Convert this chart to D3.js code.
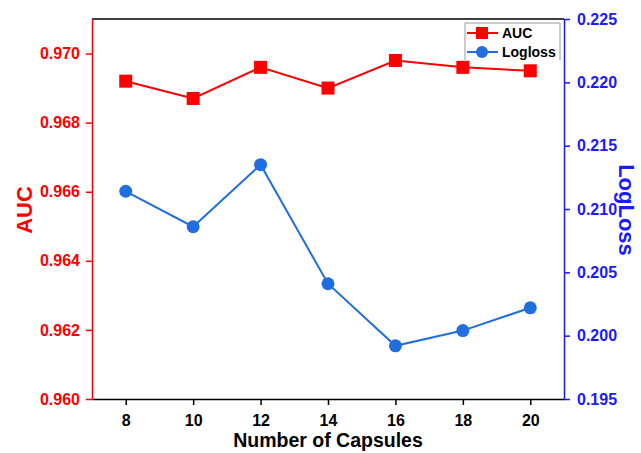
<!DOCTYPE html>
<html>
<head>
<meta charset="utf-8">
<script src="https://cdn.jsdelivr.net/npm/d3@7"></script>
<style>
  body { margin: 0; background: #fff; }
  text { font-family: Arial, "Liberation Sans", sans-serif; font-weight: bold; }
</style>
</head>
<body>
<svg id="chart" width="641" height="453"></svg>
<script>
// data
var capsules = [8, 10, 12, 14, 16, 18, 20];
var auc = [0.9692, 0.9687, 0.9696, 0.9690, 0.9698, 0.9696, 0.9695];
var logloss = [0.2114, 0.2086, 0.2135, 0.2041, 0.1992, 0.2004, 0.2022];
var xTicks = [8, 10, 12, 14, 16, 18, 20];
var aucTicks = [0.960, 0.962, 0.964, 0.966, 0.968, 0.970];
var llTicks = [0.195, 0.200, 0.205, 0.210, 0.215, 0.220, 0.225];

var pLeft = 92, pRight = 564, pTop = 19, pBottom = 399;
var red = "#ff0000", blue = "#1a1aff", lineBlue = "#1f6fe0";
var font = "Arial, 'Liberation Sans', sans-serif";

var svg = d3.select("#chart");

var x = d3.scaleLinear().domain([7, 21]).range([pLeft, pRight]);
var yL = d3.scaleLinear().domain([0.960, 0.971]).range([pBottom, pTop]);
var yR = d3.scaleLinear().domain([0.195, 0.225]).range([pBottom, pTop]);

// top frame line
svg.append("line")
  .attr("x1", pLeft).attr("x2", pRight).attr("y1", pTop).attr("y2", pTop)
  .attr("stroke", "#000").attr("stroke-width", 1.5);

// bottom axis
var gx = svg.append("g").attr("transform", "translate(0," + pBottom + ")")
  .call(d3.axisBottom(x).tickValues(xTicks).tickSize(6).tickSizeOuter(0).tickPadding(10));
gx.select(".domain").attr("stroke", "#000").attr("stroke-width", 1.5);
gx.selectAll(".tick line").attr("stroke", "#000").attr("stroke-width", 1.5);
gx.selectAll(".tick text").attr("font-size", 16).attr("fill", "#000").attr("font-family", font);

// left axis
var gl = svg.append("g").attr("transform", "translate(" + pLeft + ",0)")
  .call(d3.axisLeft(yL).tickValues(aucTicks).tickFormat(d3.format(".3f")).tickSize(6).tickSizeOuter(0).tickPadding(6));
gl.select(".domain").attr("stroke", red).attr("stroke-width", 1.5);
gl.selectAll(".tick line").attr("stroke", red).attr("stroke-width", 1.5);
gl.selectAll(".tick text").attr("font-size", 16).attr("fill", red).attr("font-family", font);

// right axis
var gr = svg.append("g").attr("transform", "translate(" + pRight + ",0)")
  .call(d3.axisRight(yR).tickValues(llTicks).tickFormat(d3.format(".3f")).tickSize(6).tickSizeOuter(0).tickPadding(7));
gr.select(".domain").attr("stroke", blue).attr("stroke-width", 1.5);
gr.selectAll(".tick line").attr("stroke", blue).attr("stroke-width", 1.5);
gr.selectAll(".tick text").attr("font-size", 16).attr("fill", blue).attr("font-family", font);

// axis titles
svg.append("text").attr("transform", "translate(32,210) rotate(-90)")
  .attr("text-anchor", "middle").attr("font-size", 22).attr("fill", red).text("AUC");
svg.append("text").attr("transform", "translate(619,210) rotate(90)")
  .attr("text-anchor", "middle").attr("font-size", 22).attr("fill", blue).text("LogLoss");
svg.append("text").attr("x", (pLeft + pRight) / 2).attr("y", 447)
  .attr("text-anchor", "middle").attr("font-size", 19.5).attr("fill", "#000").text("Number of Capsules");

// AUC series
var lineL = d3.line().x(function(d, i) { return x(capsules[i]); }).y(function(d) { return yL(d); });
svg.append("path").datum(auc).attr("d", lineL)
  .attr("fill", "none").attr("stroke", red).attr("stroke-width", 2);
svg.selectAll(".sq").data(auc).enter().append("rect")
  .attr("x", function(d, i) { return x(capsules[i]) - 6.5; })
  .attr("y", function(d) { return yL(d) - 6.5; })
  .attr("width", 13).attr("height", 13).attr("fill", red);

// Logloss series
var lineR = d3.line().x(function(d, i) { return x(capsules[i]); }).y(function(d) { return yR(d); });
svg.append("path").datum(logloss).attr("d", lineR)
  .attr("fill", "none").attr("stroke", lineBlue).attr("stroke-width", 2);
svg.selectAll(".ci").data(logloss).enter().append("circle")
  .attr("cx", function(d, i) { return x(capsules[i]); })
  .attr("cy", function(d) { return yR(d); })
  .attr("r", 6.5).attr("fill", lineBlue);

// legend
var lg = svg.append("g");
lg.append("path").attr("d", "M465,60 V23 H560 V60")
  .attr("fill", "#fff").attr("stroke", "#999").attr("stroke-width", 1);
lg.append("line").attr("x1", 467).attr("x2", 498).attr("y1", 33).attr("y2", 33)
  .attr("stroke", red).attr("stroke-width", 2);
lg.append("rect").attr("x", 476).attr("y", 27).attr("width", 12).attr("height", 12).attr("fill", red);
lg.append("text").attr("x", 502).attr("y", 38).attr("font-size", 14).attr("fill", "#000").text("AUC");
lg.append("line").attr("x1", 467).attr("x2", 498).attr("y1", 52).attr("y2", 52)
  .attr("stroke", lineBlue).attr("stroke-width", 2);
lg.append("circle").attr("cx", 482).attr("cy", 52).attr("r", 6).attr("fill", lineBlue);
lg.append("text").attr("x", 502).attr("y", 57).attr("font-size", 14).attr("fill", "#000").text("Logloss");
</script>
</body>
</html>
